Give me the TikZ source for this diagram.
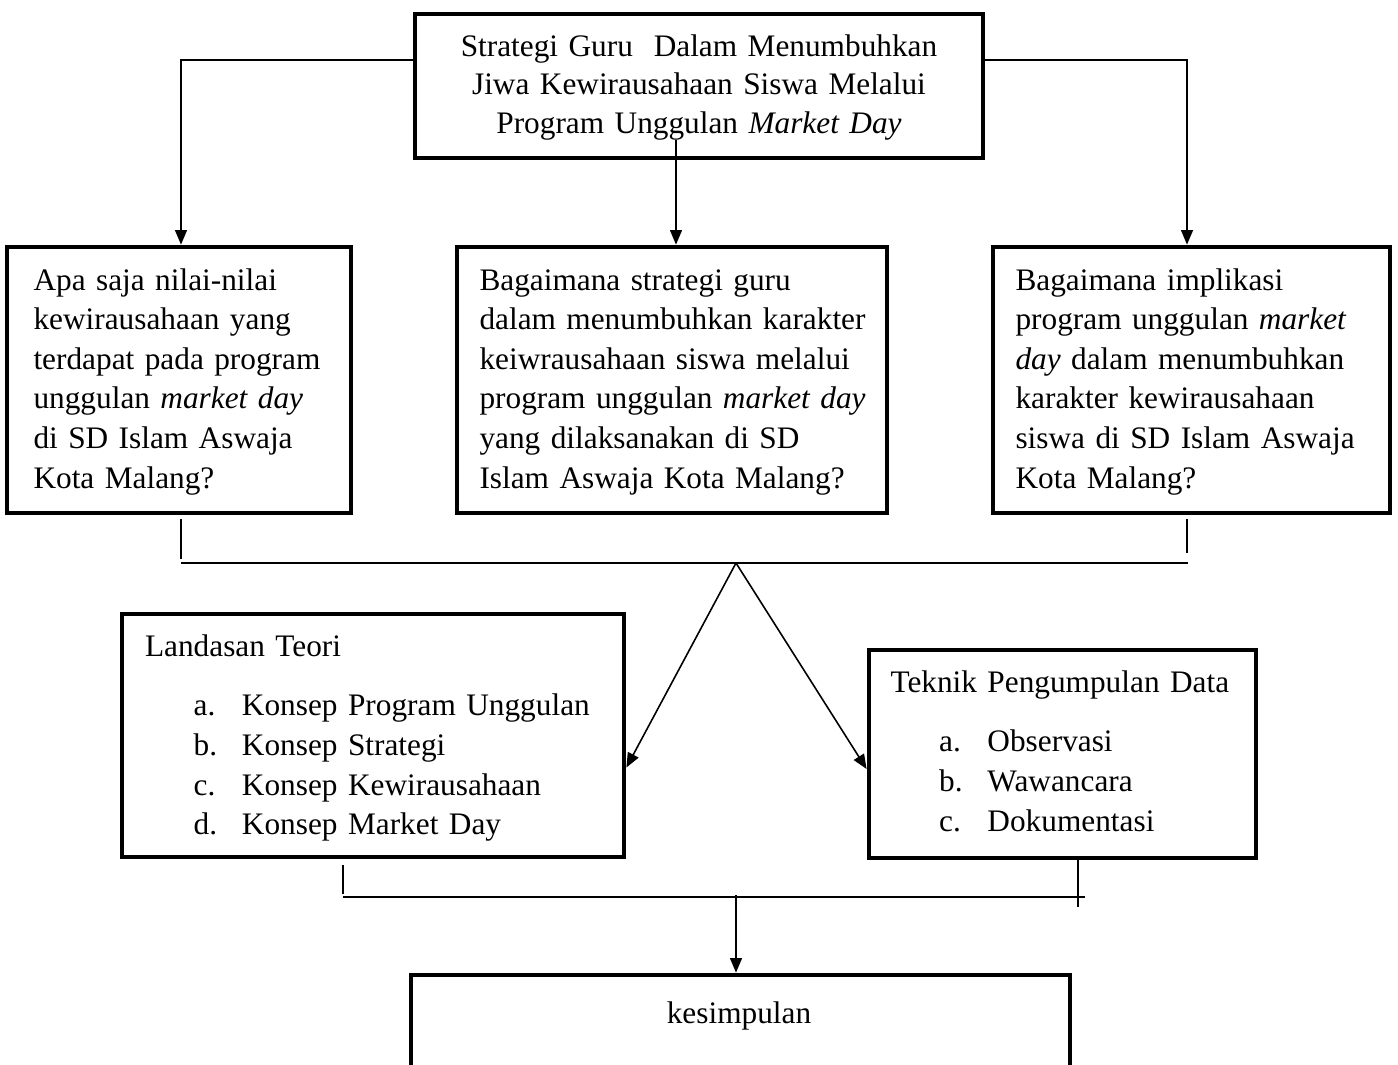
\documentclass[tikz,border=0pt]{standalone}
\usepackage{fontspec}
\setmainfont{Liberation Serif}
\usepackage{tikz}
\usetikzlibrary{arrows.meta, positioning, calc}
\newlength{\pxu}
\setlength{\pxu}{0.3785pt}
\newcommand{\lsitem}[2]{\hspace*{18.4pt}\makebox[18.3pt][l]{#1}#2}

\begin{document}
\begin{tikzpicture}[x=0.3785pt, y=-0.3785pt,
  every node/.style={font=\fontsize{11.85}{15}\selectfont},
  box/.style={draw, line width=1.8pt, inner sep=0pt},
  txt/.style={inner sep=0pt, anchor=base west, align=left, text width=175pt},
  arr/.style={line width=0.6pt, -{Triangle[length=5.5pt, width=4.5pt]}},
  link/.style={line width=0.7pt}]
  \useasboundingbox (0,0) rectangle (1398,1065);

  % Title box
  \node[box, minimum width=568*\pxu, minimum height=144*\pxu] (goal) at (699,86) {};
  \node[txt, anchor=base, align=center, text width=200pt, font=\fontsize{11.85}{14.6}\selectfont] (goaltxt) at (699,56) {Strategi Guru~ Dalam Menumbuhkan\\ Jiwa Kewirausahaan Siswa Melalui\\ Program Unggulan \textit{Market Day}};

  % Research questions
  \node[box, minimum width=344*\pxu, minimum height=266*\pxu] (q1) at (179,380) {};
  \node[txt] (q1txt) at (33,290) {Apa saja nilai-nilai\\ kewirausahaan yang\\ terdapat pada program\\ unggulan \textit{market day}\\ di SD Islam Aswaja\\ Kota Malang?};

  \node[box, minimum width=430*\pxu, minimum height=266*\pxu] (q2) at (672,380) {};
  \node[txt] (q2txt) at (479,290) {Bagaimana strategi guru\\ dalam menumbuhkan karakter\\ keiwrausahaan siswa melalui\\ program unggulan \textit{market day}\\ yang dilaksanakan di SD\\ Islam Aswaja Kota Malang?};

  \node[box, minimum width=397*\pxu, minimum height=266*\pxu] (q3) at (1191.5,380) {};
  \node[txt] (q3txt) at (1015,290) {Bagaimana implikasi\\ program unggulan \textit{market}\\ \textit{day} dalam menumbuhkan\\ karakter kewirausahaan\\ siswa di SD Islam Aswaja\\ Kota Malang?};

  % Theory and data collection
  \node[box, minimum width=502*\pxu, minimum height=243*\pxu] (teori) at (373,735.5) {};
  \node[txt] (teoritxt) at (144.5,656) {Landasan Teori\\[7.7pt] \lsitem{a.}{Konsep Program Unggulan}\\ \lsitem{b.}{Konsep Strategi}\\ \lsitem{c.}{Konsep Kewirausahaan}\\ \lsitem{d.}{Konsep Market Day}};

  \node[box, minimum width=387*\pxu, minimum height=208*\pxu] (teknik) at (1062.5,754) {};
  \node[txt] (tekniktxt) at (890,692) {Teknik Pengumpulan Data\\[7.7pt] \lsitem{a.}{Observasi}\\ \lsitem{b.}{Wawancara}\\ \lsitem{c.}{Dokumentasi}};

  % Conclusion
  \node[box, minimum width=659*\pxu, minimum height=160*\pxu] (kes) at (740.5,1055) {};
  \node[anchor=base, inner sep=0pt] (kestxt) at (739,1023) {kesimpulan};

  % Arrows from title
  \coordinate (gmid) at (676,140);
  \draw[arr] ([yshift=26*\pxu]goal.west) -| ([xshift=2*\pxu]q1.north);
  \draw[arr] ([yshift=26*\pxu]goal.east) -| ([xshift=-4.5*\pxu]q3.north);
  \draw[arr] (gmid) -- (gmid |- q2.north);

  % Upper joining bar
  \coordinate (barL) at (181,563);
  \coordinate (barR) at (1188,563);
  \coordinate (apex) at (736,563);
  \draw[link] ([xshift=2*\pxu, yshift=-4*\pxu]q1.south) -- ++(0,40);
  \draw[link] ([xshift=-4.5*\pxu, yshift=-4*\pxu]q3.south) -- ++(0,34);
  \draw[link] (barL) -- (barR);
  \draw[arr] (apex) -- ([yshift=-32*\pxu]teori.east);
  \draw[arr] (apex) -- ([yshift=-15*\pxu]teknik.west);

  % Lower joining bar
  \coordinate (bbarL) at (343,897);
  \coordinate (bbarR) at (1085,897);
  \coordinate (bmid) at (736,895);
  \draw[link] ([xshift=-30*\pxu, yshift=-6*\pxu]teori.south) -- ++(0,29);
  \draw[link] ([xshift=15.5*\pxu]teknik.south) -- ++(0,47);
  \draw[link] (bbarL) -- (bbarR);
  \draw[arr] (bmid) -- (bmid |- kes.north);
\end{tikzpicture}
\end{document}
